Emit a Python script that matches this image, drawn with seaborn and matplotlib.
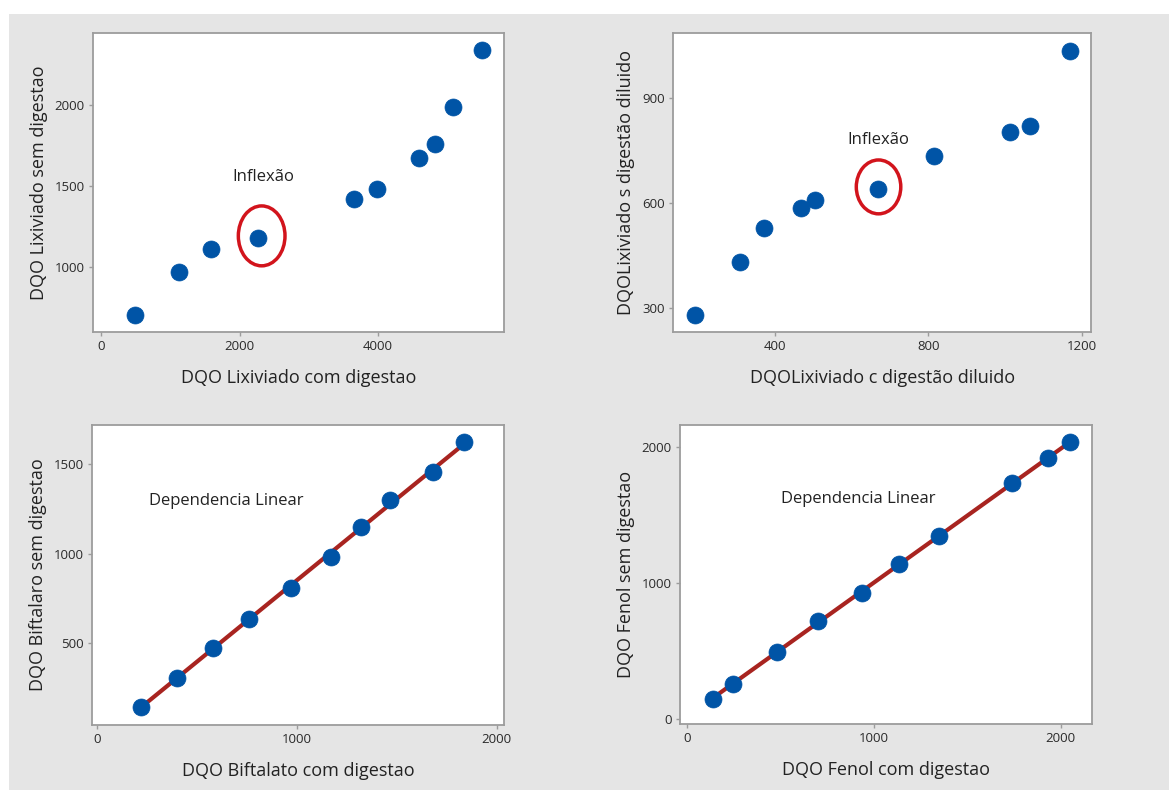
import numpy as np
import pandas as pd
import matplotlib
matplotlib.use("Agg")
import matplotlib.pyplot as plt
from matplotlib.patches import Ellipse, Rectangle
import seaborn as sns

# --- Data -------------------------------------------------------------
lix_com = [491, 1126, 1588, 2272, 3653, 3990, 4588, 4823, 5088, 5506]
lix_sem = [702, 965, 1107, 1179, 1418, 1481, 1671, 1757, 1986, 2340]

dil_com = [191, 309, 371, 468, 504, 668, 815, 1014, 1066, 1168]
dil_sem = [281, 431, 530, 587, 610, 641, 734, 804, 821, 1037]

bif_com = [217, 397, 578, 760, 968, 1169, 1319, 1466, 1683, 1836]
bif_sem = [146, 305, 476, 636, 809, 980, 1147, 1297, 1457, 1624]

fen_com = [136, 243, 479, 698, 934, 1136, 1348, 1738, 1934, 2050]
fen_sem = [147, 255, 494, 720, 927, 1138, 1346, 1735, 1914, 2032]

# --- Style ------------------------------------------------------------
sns.set_theme(style="white")
plt.rcParams["font.family"] = ["Open Sans", "DejaVu Sans"]

BLUE = "#0054a6"
DARK_RED = "#a82420"
RED = "#d2141c"
BG = "#e5e5e5"
SPINE = "#9c9c9c"
TEXT = "#222222"

fig = plt.figure(figsize=(11.69, 7.90), dpi=100)
fig.patch.set_facecolor("white")
# grey panel behind the four plots
fig.patches.append(Rectangle((9 / 1169, 0), 1 - 9 / 1169, 1 - 14 / 790,
                             transform=fig.transFigure, facecolor=BG,
                             edgecolor="none", zorder=-10))


def make_axes(rect, xlim, ylim, xticks, yticks):
    ax = fig.add_axes(rect)
    ax.set_facecolor("white")
    ax.set_xlim(*xlim)
    ax.set_ylim(*ylim)
    ax.set_xticks(xticks)
    ax.set_yticks(yticks)
    for s in ax.spines.values():
        s.set_color(SPINE)
        s.set_linewidth(1.3)
    ax.tick_params(axis="both", which="major", direction="out", length=3,
                   width=1, color=SPINE, labelsize=9.5, labelcolor="#2a2a2a",
                   pad=3, bottom=True, left=True)
    return ax


def scatter(ax, x, y):
    df = pd.DataFrame({"x": x, "y": y})
    sns.scatterplot(data=df, x="x", y="y", ax=ax, color=BLUE, s=150,
                    edgecolor=BLUE, linewidth=0.5, zorder=3, legend=False)


def fit_line(ax, x, y):
    df = pd.DataFrame({"x": x, "y": y})
    sns.regplot(data=df, x="x", y="y", ax=ax, ci=None, scatter=False,
                truncate=True, line_kws={"color": DARK_RED, "lw": 3,
                                         "zorder": 2})


def labels(ax, xlabel, ylabel):
    ax.set_xlabel(xlabel, fontsize=13, color=TEXT, labelpad=11)
    ax.set_ylabel(ylabel, fontsize=13, color=TEXT, labelpad=5)


# Top-left: leachate with / without digestion
ax1 = make_axes([0.0796, 0.5797, 0.3515, 0.3785], (-115, 5819), (597, 2444),
                [0, 2000, 4000], [1000, 1500, 2000])
scatter(ax1, lix_com, lix_sem)
labels(ax1, "DQO Lixiviado com digestao", "DQO Lixiviado sem digestao")
ax1.add_patch(Ellipse((2320, 1191), 674, 370, fill=False, edgecolor=RED,
                      lw=2.5, zorder=4))
ax1.text(2340, 1555, "Inflexão", fontsize=12, ha="center", va="center",
         color=TEXT)

# Top-right: diluted leachate
ax2 = make_axes([0.5760, 0.5797, 0.3573, 0.3785], (135, 1224), (232, 1087),
                [400, 800, 1200], [300, 600, 900])
scatter(ax2, dil_com, dil_sem)
labels(ax2, "DQOLixiviado c digestão diluido",
       "DQOLixiviado s digestão diluido")
ax2.add_patch(Ellipse((670, 647), 116, 154, fill=False, edgecolor=RED,
                      lw=2.5, zorder=4))
ax2.text(670, 781, "Inflexão", fontsize=12, ha="center", va="center",
         color=TEXT)

# Bottom-left: biphthalate
ax3 = make_axes([0.0790, 0.0823, 0.3521, 0.3797], (-25, 2036), (44, 1717),
                [0, 1000, 2000], [500, 1000, 1500])
fit_line(ax3, bif_com, bif_sem)
scatter(ax3, bif_com, bif_sem)
labels(ax3, "DQO Biftalato com digestao", "DQO Biftalaro sem digestao")
ax3.text(259, 1292, "Dependencia Linear", fontsize=12, ha="left",
         va="center", color=TEXT)

# Bottom-right: phenol
ax4 = make_axes([0.5817, 0.0835, 0.3522, 0.3785], (-39, 2166), (-37, 2159),
                [0, 1000, 2000], [0, 1000, 2000])
fit_line(ax4, fen_com, fen_sem)
scatter(ax4, fen_com, fen_sem)
labels(ax4, "DQO Fenol com digestao", "DQO Fenol sem digestao")
ax4.text(502, 1613, "Dependencia Linear", fontsize=12, ha="left",
         va="center", color=TEXT)

fig.savefig("out.png", dpi=100, facecolor=fig.get_facecolor())
